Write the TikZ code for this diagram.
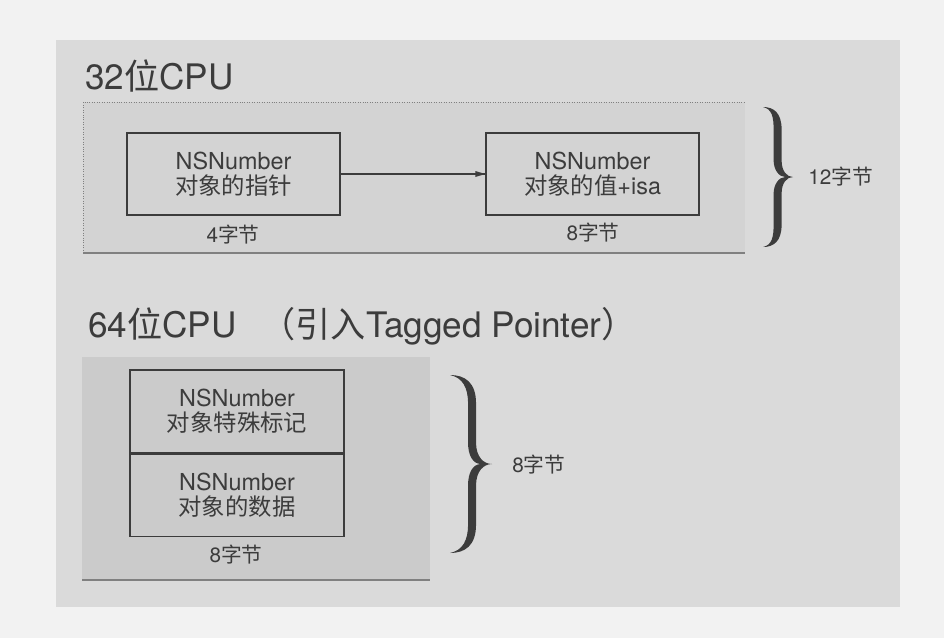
\documentclass[tikz,border=0pt]{standalone}
\usepackage{fontspec}
\setmainfont{TeX Gyre Heros}
\newfontfamily\cjk{Noto Sans CJK SC}
\usepackage{xcolor}
\definecolor{pagebg}{HTML}{F2F2F2}
\definecolor{panelgray}{HTML}{DADADA}
\definecolor{innergray}{HTML}{D3D3D3}
\definecolor{deepgray}{HTML}{CBCBCB}
\definecolor{inkgray}{HTML}{3C3C3C}

% filled curly brace: x, top y, bottom y, amplitude
\newcommand{\curlyfill}[4]{%
  \pgfmathsetmacro{\bh}{#2-(#3)}
  \pgfmathsetmacro{\bo}{#1+0.62*#4}
  \pgfmathsetmacro{\bi}{\bo-0.8}
  \pgfmathsetmacro{\bc}{#1+0.74*#4}
  \pgfmathsetmacro{\bt}{#1+#4}
  \pgfmathsetmacro{\bm}{#2-0.5*\bh}
  \fill [inkgray] (#1,#2) .. controls ({#1+0.35*#4},#2) and (\bo,{#2-0.04*\bh}) .. (\bo,{#2-0.16*\bh})
    -- (\bo,{#2-0.38*\bh}) .. controls (\bo,{#2-0.46*\bh}) and ({#1+0.8*#4},\bm) .. (\bt,\bm)
    .. controls ({#1+0.8*#4},\bm) and (\bo,{#2-0.54*\bh}) .. (\bo,{#2-0.62*\bh})
    -- (\bo,{#2-0.84*\bh}) .. controls (\bo,{#2-0.96*\bh}) and ({#1+0.35*#4},#3) .. (#1,#3)
    .. controls ({#1+0.3*#4},{#3+0.015*\bh}) and (\bi,{#2-0.93*\bh}) .. (\bi,{#2-0.84*\bh})
    -- (\bi,{#2-0.62*\bh}) .. controls (\bi,{#2-0.55*\bh}) and ({\bc-0.2*#4},\bm) .. (\bc,\bm)
    .. controls ({\bc-0.2*#4},\bm) and (\bi,{#2-0.45*\bh}) .. (\bi,{#2-0.38*\bh})
    -- (\bi,{#2-0.16*\bh}) .. controls (\bi,{#2-0.07*\bh}) and ({#1+0.3*#4},{#2-0.015*\bh}) .. (#1,#2) -- cycle;
}

\begin{document}
\begin{tikzpicture}[scale=0.2]
\tikzstyle{every node}+=[inner sep=0pt, text=inkgray]
\tikzstyle{cell}=[draw=inkgray, line width=0.8pt, minimum width=4.26cm, minimum height=1.64cm, align=center, font=\fontsize{13.3}{14}\selectfont]
\tikzstyle{bytes}=[font=\fontsize{11.8}{13}\selectfont]
\tikzstyle{heading}=[anchor=west, font=\fontsize{20}{24}\selectfont]
% page and panels
\fill [pagebg] (0,0) rectangle (94.4,-63.8);
\fill [panelgray] (5.6,-4.0) rectangle (90.0,-60.7);
\fill [innergray] (8.3,-10.2) rectangle (74.5,-25.3);
\draw [gray, line width=0.4pt, densely dotted] (8.3,-25.3) -- (8.3,-10.2) -- (74.5,-10.2);
\draw [gray, line width=0.6pt] (8.3,-25.3) -- (74.5,-25.3);
\fill [deepgray] (8.2,-35.7) rectangle (43.0,-58.0);
\draw [gray, line width=0.6pt] (8.2,-58.0) -- (43.0,-58.0);
% 32 bit
\node [heading] (head32) at (8.5,-7.6) {32{\cjk 位}CPU};
\node [cell] (ptr) at (23.35,-17.4) {NSNumber\\{\cjk 对象的指针}};
\node [cell] (val) at (59.25,-17.4) {NSNumber\\{\cjk 对象的值}+isa};
\node [bytes] (ptrsize) at (23.3,-23.5) {4{\cjk 字节}};
\node [bytes] (valsize) at (59.3,-23.3) {8{\cjk 字节}};
\draw [inkgray, line width=0.7pt] (ptr.east) -- (val.west);
\fill [inkgray] (val.west) -- ++(-1.0,0.3) -- ++(0,-0.6) -- cycle;
\curlyfill{76.3}{-10.7}{-24.7}{3.0}
\node [bytes, anchor=west] (total32) at (80.8,-17.7) {12{\cjk 字节}};
% 64 bit
\node [heading] (head64) at (8.8,-32.6) {64{\cjk 位}CPU \hspace{0.4em}{\cjk （引入}Tagged Pointer{\cjk ）}};
\node [cell, minimum width=4.28cm, minimum height=1.66cm] (tag) at (23.7,-41.15) {NSNumber\\{\cjk 对象特殊标记}};
\node [cell, minimum width=4.28cm, minimum height=1.64cm, anchor=north] (data) at (tag.south) {NSNumber\\{\cjk 对象的数据}};
\node [bytes] (datasize) at (23.6,-55.5) {8{\cjk 字节}};
\curlyfill{45.0}{-37.5}{-55.3}{4.2}
\node [bytes, anchor=west] (total64) at (51.2,-46.5) {8{\cjk 字节}};
\end{tikzpicture}
\end{document}
